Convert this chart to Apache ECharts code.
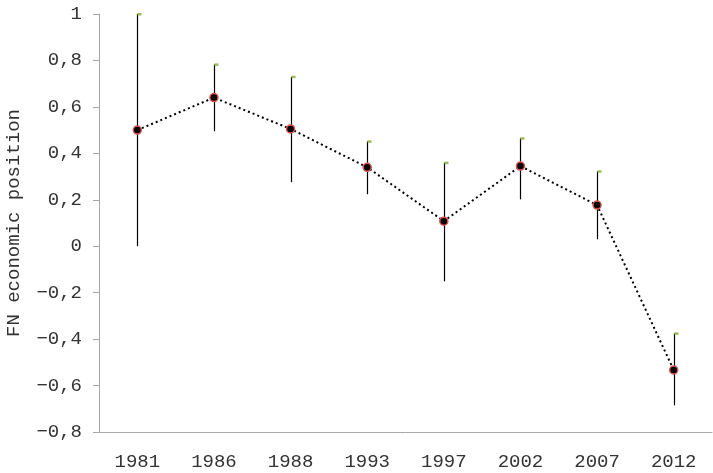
<!DOCTYPE html>
<html>
<head>
<meta charset="UTF-8">
<title>FN economic position</title>
<script src="https://cdn.jsdelivr.net/npm/echarts@6/dist/echarts.min.js"></script>
<style>
    html, body { margin: 0; padding: 0; background: #fff; }
    #chart { width: 713px; height: 473px; }
</style>
</head>
<body>
<div id="chart"></div>
<script>
    var years = ['1981', '1986', '1988', '1993', '1997', '2002', '2007', '2012'];
    var position = [0.50, 0.64, 0.505, 0.34, 0.108, 0.345, 0.177, -0.533];
    var upper = [1.00, 0.783, 0.73, 0.452, 0.36, 0.465, 0.323, -0.375];
    var lower = [0.00, 0.495, 0.276, 0.224, -0.151, 0.202, 0.03, -0.685];

    var font = '"Liberation Mono", "Courier New", monospace';

    var chart = echarts.init(document.getElementById('chart'));

    var barData = years.map(function (y, i) {
        return [i, lower[i], upper[i]];
    });

    var option = {
        animation: false,
        grid: { left: 99, right: 1, top: 14, bottom: 41, outerBoundsMode: 'none' },
        xAxis: {
            type: 'category',
            data: years,
            boundaryGap: true,
            axisLine: { onZero: false, lineStyle: { color: '#a6a6a6' } },
            axisTick: { length: 5, lineStyle: { color: '#a6a6a6' } },
            axisLabel: { margin: 20, color: '#333', fontFamily: font, fontSize: 19 },
            splitLine: { show: false }
        },
        yAxis: {
            type: 'value',
            min: -0.8,
            max: 1,
            interval: 0.2,
            name: 'FN economic position',
            nameLocation: 'middle',
            nameGap: 76,
            nameTextStyle: { color: '#333', fontFamily: font, fontSize: 19 },
            axisLine: { show: true, lineStyle: { color: '#a6a6a6' } },
            axisTick: { show: true, length: 6, lineStyle: { color: '#a6a6a6' } },
            axisLabel: {
                margin: 17,
                color: '#333',
                fontFamily: font,
                fontSize: 19,
                formatter: function (v) {
                    var r = Math.round(v * 10) / 10;
                    return String(r).replace('-', '\u2212').replace('.', ',');
                }
            },
            splitLine: { show: false }
        },
        series: [
            {
                type: 'custom',
                data: barData,
                z: 2,
                renderItem: function (params, api) {
                    var x = api.value(0);
                    var lo = api.coord([x, api.value(1)]);
                    var hi = api.coord([x, api.value(2)]);
                    var px = Math.round(lo[0]) + 0.5;
                    return {
                        type: 'group',
                        children: [
                            {
                                type: 'line',
                                shape: { x1: px, y1: hi[1], x2: px, y2: lo[1] },
                                style: { stroke: '#000', lineWidth: 1.2 }
                            },
                            {
                                type: 'rect',
                                shape: { x: px, y: hi[1] - 1, width: 4, height: 2.5 },
                                style: { fill: '#9bbb59' }
                            }
                        ]
                    };
                }
            },
            {
                type: 'line',
                data: position,
                z: 3,
                symbol: 'circle',
                symbolSize: 8,
                itemStyle: { color: '#000', borderColor: '#d9534f', borderWidth: 1.5 },
                lineStyle: { color: '#000', width: 2, type: [2, 3] }
            }
        ]
    };

    chart.setOption(option);
</script>
</body>
</html>
